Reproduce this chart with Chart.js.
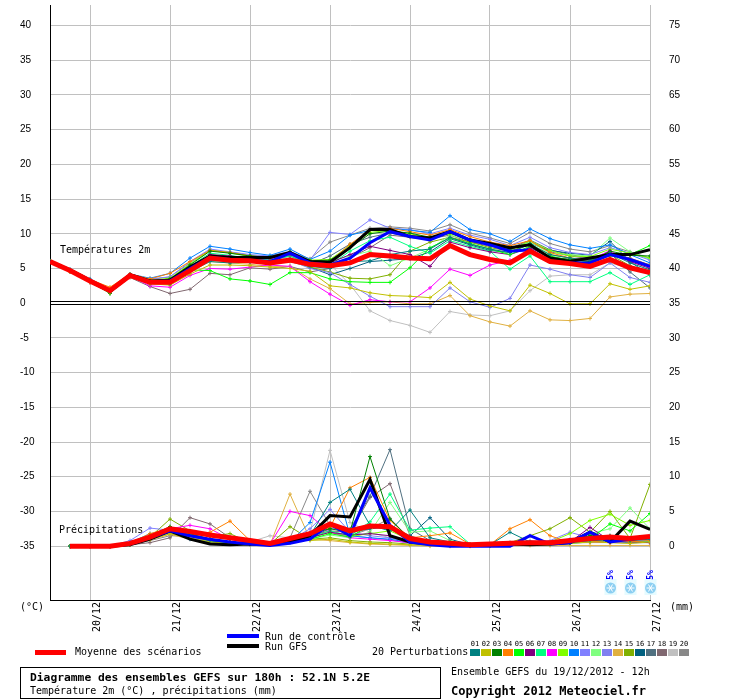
<!DOCTYPE html>
<html>
<head>
<meta charset="utf-8">
<script src="https://cdn.jsdelivr.net/npm/chart.js@4.4.0/dist/chart.umd.min.js"></script>
<style>
  html, body { margin: 0; padding: 0; background: #fff; }
  #wrap { width: 740px; height: 700px; }
</style>
</head>
<body>
<div id="wrap"><canvas id="gefs" width="740" height="700"></canvas></div>
<script>
'use strict';

/* ── Échéances : heures depuis le 19/12/2012 12h ── */
var HOURS = [0, 6, 12, 18, 24, 30, 36, 42, 48, 54, 60, 66, 72, 78, 84, 90,
             96, 102, 108, 114, 120, 126, 132, 138, 144, 150, 156, 162, 168, 174, 180];
var DAY_TICKS  = [12, 36, 60, 84, 108, 132, 156, 180];
var DAY_LABELS = ['20/12', '21/12', '22/12', '23/12', '24/12', '25/12', '26/12', '27/12'];
var TEMP_TICKS   = [-35, -30, -25, -20, -15, -10, -5, 0, 5, 10, 15, 20, 25, 30, 35, 40];
var PRECIP_TICKS = [0, 5, 10, 15, 20, 25, 30, 35, 40, 45, 50, 55, 60, 65, 70, 75];

/* ── Probabilité de neige (icônes) ── */
var SNOW_HOURS = [168, 174, 180];
var SNOW_PROB  = [5, 5, 5];

/* ── Température 2m (°C) ── */
var T_MEAN = [6.0, 4.7, 3.2, 1.8, 4.0, 3.0, 3.0, 4.7, 6.5, 6.2, 6.1, 5.8, 6.2, 5.6, 5.4, 5.8, 7.0, 6.8, 6.5, 6.4, 8.3, 7.0, 6.3, 5.8, 7.5, 6.0, 5.7, 5.3, 6.3, 5.1, 4.4];
var T_CTRL = [6.0, 4.7, 3.2, 1.7, 4.0, 3.1, 3.2, 5.0, 6.6, 6.3, 6.2, 6.0, 7.2, 5.8, 5.5, 6.5, 8.7, 10.3, 9.6, 9.1, 10.3, 9.1, 8.4, 7.5, 7.7, 6.0, 5.8, 5.8, 7.0, 6.3, 5.3];
var T_GFS  = [6.0, 4.8, 3.3, 1.8, 4.1, 3.2, 3.3, 5.2, 6.8, 6.6, 6.6, 6.6, 7.3, 6.0, 5.9, 8.0, 10.6, 10.6, 9.6, 9.4, 10.3, 9.1, 8.6, 8.0, 8.4, 6.5, 6.0, 6.5, 7.0, 7.0, 7.7];

var T_P01 = [6.0, 4.6, 3.2, 1.7, 3.9, 3.0, 2.8, 4.6, 6.0, 5.8, 5.9, 5.8, 6.3, 5.3, 5.0, 6.0, 6.1, 7.0, 7.5, 7.8, 9.5, 8.5, 7.8, 7.3, 8.5, 7.0, 6.5, 6.2, 7.2, 5.8, 4.8];
var T_P02 = [6.0, 4.5, 3.0, 1.5, 3.8, 2.8, 2.6, 4.2, 5.5, 5.5, 5.4, 5.2, 5.0, 4.6, 2.5, 2.2, 1.5, 1.1, 1.0, 0.8, 3.0, 0.6, -0.4, -1.1, 2.6, 1.4, -0.1, -0.1, 2.8, 2.0, 2.5];
var T_P03 = [6.1, 4.8, 3.3, 1.4, 4.1, 3.2, 3.5, 5.5, 7.5, 7.2, 6.8, 6.6, 7.4, 6.1, 6.2, 8.0, 10.0, 10.4, 10.1, 9.5, 10.2, 9.0, 8.4, 7.8, 8.6, 6.6, 6.3, 6.0, 7.5, 6.9, 6.8];
var T_P04 = [6.0, 4.8, 3.4, 2.3, 4.2, 3.5, 4.3, 6.0, 7.6, 7.3, 6.8, 6.5, 7.2, 6.0, 6.0, 8.5, 10.5, 10.8, 10.3, 9.8, 10.6, 9.6, 8.8, 8.3, 9.0, 7.3, 6.5, 6.2, 7.0, 6.4, 5.5];
var T_P05 = [6.0, 4.7, 3.1, 1.4, 4.0, 2.8, 3.0, 4.8, 4.7, 3.5, 3.2, 2.7, 4.4, 4.4, 3.5, 3.1, 3.0, 3.0, 5.1, 8.0, 9.4, 8.6, 7.8, 7.0, 8.2, 6.8, 6.2, 6.0, 6.8, 7.0, 8.3];
var T_P06 = [6.0, 4.6, 3.2, 1.8, 3.9, 3.0, 3.0, 5.0, 7.0, 6.8, 6.5, 6.4, 7.0, 5.8, 5.8, 7.0, 8.2, 7.6, 7.0, 5.3, 8.8, 8.0, 7.4, 7.0, 8.0, 6.6, 6.3, 6.2, 7.4, 6.0, 5.0];
var T_P07 = [6.0, 4.7, 3.3, 1.7, 4.1, 3.1, 3.2, 5.3, 7.2, 6.9, 6.4, 6.2, 6.8, 5.7, 5.5, 7.5, 9.0, 9.5, 8.2, 7.2, 9.0, 8.2, 7.5, 4.9, 6.8, 3.1, 3.1, 3.1, 4.4, 2.7, 4.1];
var T_P08 = [6.0, 4.6, 3.0, 1.6, 3.9, 2.5, 2.3, 4.0, 5.0, 4.9, 5.2, 5.5, 5.3, 3.1, 1.3, -0.3, 0.5, 0.2, 0.2, 2.2, 4.9, 4.0, 5.5, 6.2, 7.2, 6.5, 6.0, 6.2, 7.6, 6.0, 5.2];
var T_P09 = [6.0, 4.8, 3.3, 1.9, 4.0, 3.3, 3.6, 5.6, 7.6, 7.3, 6.8, 6.6, 7.3, 6.2, 6.3, 8.3, 10.2, 10.5, 10.0, 9.4, 10.0, 9.2, 8.6, 7.6, 9.0, 7.6, 6.8, 6.7, 7.8, 7.2, 6.5];
var T_P10 = [6.1, 4.9, 3.5, 2.0, 4.2, 3.6, 4.3, 6.5, 8.2, 7.8, 7.3, 6.9, 7.8, 6.3, 7.5, 9.8, 10.5, 10.8, 10.5, 10.2, 12.6, 10.6, 10.0, 8.9, 10.7, 9.3, 8.4, 7.9, 8.4, 7.0, 5.8];
var T_P11 = [6.0, 4.8, 3.4, 2.0, 4.1, 3.5, 3.8, 6.0, 7.8, 7.4, 7.0, 6.8, 7.5, 6.2, 10.2, 9.9, 12.0, 10.8, 10.6, 10.0, 10.8, 9.8, 9.2, 8.3, 9.5, 8.0, 7.3, 7.0, 8.0, 7.2, 6.2];
var T_P12 = [6.0, 4.8, 3.4, 1.9, 4.0, 3.3, 3.5, 5.7, 7.6, 7.2, 6.7, 6.5, 7.2, 6.0, 6.1, 6.8, 7.5, 5.4, 6.5, 7.8, 9.8, 9.0, 8.5, 7.8, 8.8, 7.2, 7.0, 6.8, 9.4, 7.4, 6.3];
var T_P13 = [6.0, 4.6, 3.1, 1.7, 3.9, 2.9, 2.8, 4.6, 6.3, 6.0, 6.0, 5.8, 6.2, 5.0, 4.4, 2.7, 1.0, -0.5, -0.5, -0.5, 2.2, 0.2, -0.6, 0.7, 5.5, 4.9, 4.1, 3.7, 5.8, 3.7, 3.0];
var T_P14 = [6.0, 4.5, 3.0, 1.6, 3.8, 2.8, 2.7, 4.5, 6.0, 5.8, 5.6, 5.3, 5.3, 3.5, 2.1, -0.1, 0.1, 0.2, -0.1, -0.1, 1.1, -1.8, -2.7, -3.3, -1.1, -2.4, -2.5, -2.2, 0.9, 1.3, 1.4];
var T_P15 = [6.0, 4.6, 3.2, 1.6, 3.9, 3.0, 3.0, 4.8, 6.5, 6.3, 6.0, 5.8, 6.0, 5.2, 4.5, 3.6, 3.5, 4.1, 7.5, 8.8, 9.5, 8.8, 8.0, 7.5, 8.5, 7.0, 6.5, 6.3, 7.0, 5.4, 4.5];
var T_P16 = [6.0, 4.6, 3.2, 1.7, 3.9, 2.9, 2.9, 4.8, 6.2, 6.0, 6.0, 5.8, 6.3, 5.2, 4.1, 5.0, 6.0, 6.2, 6.4, 7.4, 9.3, 8.4, 7.6, 7.3, 8.6, 7.6, 7.2, 6.9, 8.9, 6.0, 4.0];
var T_P17 = [6.0, 4.7, 3.2, 1.7, 4.0, 3.1, 3.1, 5.0, 6.8, 6.6, 6.3, 6.2, 6.8, 5.6, 6.8, 8.5, 9.5, 10.1, 9.6, 9.4, 10.3, 9.2, 8.4, 7.9, 9.1, 7.7, 7.0, 6.5, 7.2, 4.5, 2.2];
var T_P18 = [6.0, 4.6, 3.0, 1.5, 3.7, 2.4, 1.4, 2.0, 4.3, 4.1, 5.1, 4.9, 5.3, 4.5, 5.0, 6.5, 8.0, 9.8, 9.5, 9.3, 9.8, 8.8, 8.2, 7.8, 8.9, 7.4, 6.8, 6.4, 7.2, 6.5, 5.5];
var T_P19 = [6.0, 4.7, 3.3, 1.9, 4.1, 3.2, 3.2, 5.2, 7.0, 6.7, 6.4, 6.1, 6.6, 5.6, 5.6, 2.7, -1.1, -2.5, -3.2, -4.2, -1.2, -1.7, -1.8, -1.1, 1.8, 3.9, 4.1, 4.1, 5.8, 5.0, 4.2];
var T_P20 = [6.0, 4.7, 3.4, 2.0, 4.2, 3.4, 3.8, 5.8, 7.7, 7.3, 6.9, 6.7, 7.4, 6.4, 8.8, 9.8, 10.8, 11.0, 10.8, 10.4, 11.3, 10.1, 9.4, 8.6, 10.2, 8.6, 7.8, 7.4, 8.3, 7.4, 6.5];

/* ── Précipitations 6h (mm), échéances 6h à 180h ── */
var P_MEAN = [0, 0, 0, 0.4, 1.3, 2.5, 2.1, 1.6, 1.2, 0.8, 0.4, 1.1, 1.8, 3.2, 2.2, 2.9, 2.8, 1.1, 0.6, 0.4, 0.2, 0.3, 0.4, 0.5, 0.5, 0.8, 1.1, 1.3, 1.1, 1.4];
var P_CTRL = [0, 0, 0, 0.3, 1.2, 2.2, 1.5, 1.0, 0.6, 0.3, 0.1, 0.4, 1.0, 3.2, 1.5, 8.4, 3.0, 0.6, 0.2, 0, 0, 0, 0, 1.5, 0.3, 0.5, 2.0, 0.6, 1.0, 1.4];
var P_GFS  = [0, 0, 0, 0.2, 1.0, 2.2, 1.0, 0.3, 0.2, 0.3, 0.2, 0.6, 1.5, 4.4, 4.2, 9.6, 1.5, 0.6, 0.3, 0.2, 0.1, 0.2, 0.3, 0.2, 0.3, 0.5, 2.0, 0.6, 3.6, 2.4];

var P_P01 = [0, 0, 0, 0.3, 1.2, 2.2, 1.6, 0.8, 0.5, 0.3, 0.2, 0.8, 1.5, 6.3, 8.2, 3.0, 2.2, 5.2, 1.2, 0.6, 0.2, 0.2, 2.0, 0.6, 0.4, 0.5, 0.8, 1.0, 0.8, 1.0];
var P_P02 = [0, 0, 0, 0.2, 1.0, 1.8, 1.2, 0.6, 0.4, 0.3, 0.2, 1.0, 0.8, 1.0, 0.6, 0.4, 0.3, 0.2, 0.1, 0, 0, 0.1, 0.2, 0.3, 0.2, 0.4, 0.6, 0.5, 0.4, 0.6];
var P_P03 = [0, 0, 0, 0.3, 1.5, 2.8, 1.8, 1.0, 0.6, 0.3, 0.2, 1.0, 1.8, 2.5, 2.0, 12.9, 3.9, 1.0, 0.4, 0.2, 0.1, 0.1, 0.3, 0.5, 0.4, 0.8, 1.5, 1.5, 0.8, 1.2];
var P_P04 = [0, 0, 0, 0.4, 1.8, 2.6, 1.4, 2.0, 3.6, 0.8, 0.3, 0.9, 1.6, 2.7, 8.4, 9.9, 3.7, 1.2, 1.5, 1.9, 0.3, 0.2, 2.5, 3.8, 1.5, 0.5, 0.6, 0.8, 0.6, 0.8];
var P_P05 = [0, 0, 0, 0.3, 1.3, 2.4, 1.7, 1.0, 0.4, 0.3, 0.2, 0.6, 1.0, 1.8, 1.3, 3.0, 2.5, 0.8, 0.4, 0.2, 0.1, 0.1, 0.2, 0.3, 0.3, 0.5, 1.0, 3.2, 2.2, 4.7];
var P_P06 = [0, 0, 0, 0.2, 1.2, 2.0, 1.5, 0.8, 0.5, 0.3, 0.2, 0.6, 1.2, 2.0, 1.6, 1.8, 1.5, 0.6, 0.3, 0.2, 0.1, 0.2, 0.4, 0.5, 0.5, 0.6, 2.7, 0.8, 0.6, 0.5];
var P_P07 = [0, 0, 0, 0.3, 1.4, 2.5, 1.6, 0.8, 0.4, 0.3, 0.2, 0.8, 1.2, 2.2, 1.5, 3.5, 7.5, 2.3, 2.6, 2.8, 0.3, 0.2, 0.3, 0.4, 0.3, 0.4, 0.6, 0.8, 0.6, 0.7];
var P_P08 = [0, 0, 0, 0.4, 1.6, 2.5, 3.0, 2.5, 1.0, 0.4, 0.3, 5.0, 4.4, 2.0, 1.2, 1.0, 0.8, 0.5, 0.3, 0.4, 0.2, 0.3, 0.3, 0.4, 0.3, 0.5, 0.6, 0.5, 0.7, 0.6];
var P_P09 = [0, 0, 0, 0.3, 1.4, 2.8, 1.6, 0.7, 0.4, 0.3, 0.2, 0.7, 1.2, 2.0, 1.4, 1.8, 2.2, 0.9, 0.4, 0.2, 0.1, 0.2, 0.3, 0.5, 0.6, 1.8, 3.7, 4.6, 3.0, 3.7];
var P_P10 = [0, 0, 0, 0.5, 1.8, 2.2, 1.0, 0.6, 0.4, 0.3, 0.2, 0.6, 3.4, 12.1, 1.5, 1.2, 1.0, 0.5, 0.3, 0.2, 0.1, 0.1, 0.2, 0.4, 0.3, 0.5, 0.8, 0.6, 0.5, 0.6];
var P_P11 = [0, 0, 0, 0.8, 2.6, 2.3, 1.5, 1.0, 0.5, 0.3, 0.3, 0.8, 2.5, 5.3, 2.0, 1.5, 1.2, 0.6, 0.3, 0.2, 0.1, 0.3, 0.5, 0.6, 0.8, 2.0, 1.2, 1.5, 0.9, 1.0];
var P_P12 = [0, 0, 0, 0.3, 1.2, 2.6, 1.8, 1.0, 0.5, 0.3, 0.2, 0.5, 1.0, 1.6, 1.2, 2.0, 6.3, 2.0, 2.2, 0.8, 0.2, 0.2, 0.3, 0.5, 0.5, 0.8, 1.8, 2.5, 5.5, 2.5];
var P_P13 = [0, 0, 0, 0.4, 1.5, 2.0, 1.2, 0.8, 0.4, 0.3, 0.2, 0.5, 1.3, 2.8, 1.5, 1.2, 0.9, 0.4, 0.2, 0.1, 0.1, 0.2, 0.4, 0.8, 0.5, 1.0, 1.5, 0.9, 0.7, 0.8];
var P_P14 = [0, 0, 0, 0.2, 0.9, 1.7, 1.0, 0.5, 0.3, 0.2, 0.2, 7.5, 1.0, 0.8, 0.5, 0.3, 0.2, 0.1, 0, 0, 0, 0, 0.1, 0.1, 0.1, 0.1, 0.1, 0.1, 0.1, 0.1];
var P_P15 = [0, 0, 0, 0.3, 1.3, 3.9, 2.2, 1.4, 1.8, 0.5, 0.3, 2.8, 1.0, 1.2, 0.8, 0.6, 0.5, 0.3, 0.2, 0.1, 0.1, 0.2, 0.5, 1.5, 2.5, 4.1, 2.0, 5.0, 1.1, 8.9];
var P_P16 = [0, 0, 0, 0.3, 1.0, 2.0, 1.4, 0.7, 0.4, 0.3, 0.2, 0.8, 1.4, 3.0, 2.0, 2.5, 2.8, 1.5, 4.1, 1.0, 0.2, 0.2, 0.4, 0.5, 0.4, 0.6, 0.8, 0.9, 0.6, 0.7];
var P_P17 = [0, 0, 0, 0.3, 1.1, 2.2, 1.5, 0.9, 0.5, 0.3, 0.2, 0.7, 1.3, 2.5, 2.5, 7.2, 13.9, 2.5, 0.8, 0.4, 0.2, 0.2, 0.3, 0.4, 0.4, 0.6, 0.9, 0.8, 0.7, 0.8];
var P_P18 = [0, 0, 0, 0.2, 0.5, 1.2, 4.1, 3.2, 1.2, 0.5, 0.3, 0.9, 1.5, 2.2, 2.0, 7.0, 9.0, 1.5, 0.5, 0.3, 0.1, 0.2, 0.3, 0.4, 0.3, 0.5, 0.7, 0.6, 0.8, 1.5];
var P_P19 = [0, 0, 0, 0.2, 0.9, 1.8, 1.2, 0.8, 0.5, 0.6, 1.5, 1.2, 2.0, 13.8, 3.4, 2.0, 1.2, 0.5, 0.3, 0.2, 0.1, 0.1, 0.2, 0.3, 0.3, 0.4, 0.5, 0.5, 0.4, 0.5];
var P_P20 = [0, 0, 0, 0.2, 0.8, 1.5, 1.4, 1.0, 0.6, 0.4, 0.3, 1.2, 7.9, 3.0, 1.5, 2.5, 4.0, 1.0, 0.4, 0.2, 0.1, 0.2, 0.3, 0.4, 0.4, 0.5, 0.6, 0.6, 0.7, 0.6];

/* ── Perturbations : numéros et couleurs de la légende ── */
var PERT_IDS = ['01', '02', '03', '04', '05', '06', '07', '08', '09', '10',
                '11', '12', '13', '14', '15', '16', '17', '18', '19', '20'];
var PERT_COLORS = [
    '#008080', '#c0c000', '#008000', '#ff8000', '#00ff00',
    '#800080', '#00ff80', '#ff00ff', '#80ff00', '#0080ff',
    '#8080ff', '#80ff80', '#8080f0', '#e0b040', '#80b000',
    '#006080', '#507080', '#806870', '#c0c0c0', '#888888'
];
var PERT_TEMP = [T_P01, T_P02, T_P03, T_P04, T_P05, T_P06, T_P07, T_P08, T_P09, T_P10,
                 T_P11, T_P12, T_P13, T_P14, T_P15, T_P16, T_P17, T_P18, T_P19, T_P20];
var PERT_PRECIP = [P_P01, P_P02, P_P03, P_P04, P_P05, P_P06, P_P07, P_P08, P_P09, P_P10,
                   P_P11, P_P12, P_P13, P_P14, P_P15, P_P16, P_P17, P_P18, P_P19, P_P20];

/* Bornes de l'axe température ; l'axe de droite est décalé de +35 */
var Y_MIN = -42.76;
var Y_MAX = 42.96;
var RIGHT_SHIFT = 35;

var MONO = '"DejaVu Sans Mono", monospace';

/* ── Utilitaires ── */
function toPoints(hours, values) {
    return values.map(function (v, i) { return { x: hours[i], y: v }; });
}

var PRECIP_HOURS = HOURS.slice(1);

function member(label, hours, values, axis, color, width, order, markers) {
    return {
        label:           label,
        data:            toPoints(hours, values),
        yAxisID:         axis,
        borderColor:     color,
        backgroundColor: color,
        borderWidth:     width,
        pointRadius:     markers ? 2 : 0,
        pointStyle:      'cross',
        pointBorderColor: color,
        pointBorderWidth: 1,
        tension:         0,
        fill:            false,
        order:           order
    };
}

var datasets = [];
datasets.push(member('Moyenne T', HOURS, T_MEAN, 'y', '#ff0000', 5, 0, false));
datasets.push(member('Moyenne P', PRECIP_HOURS, P_MEAN, 'y2', '#ff0000', 5, 0, false));
datasets.push(member('Contrôle T', HOURS, T_CTRL, 'y', '#0000ff', 3, 1, false));
datasets.push(member('Contrôle P', PRECIP_HOURS, P_CTRL, 'y2', '#0000ff', 3, 1, false));
datasets.push(member('GFS T', HOURS, T_GFS, 'y', '#000000', 3, 2, false));
datasets.push(member('GFS P', PRECIP_HOURS, P_GFS, 'y2', '#000000', 3, 2, false));
PERT_COLORS.forEach(function (c, i) {
    datasets.push(member('P' + PERT_IDS[i] + ' T', HOURS, PERT_TEMP[i], 'y', c, 1, 3 + i, true));
    datasets.push(member('P' + PERT_IDS[i] + ' P', PRECIP_HOURS, PERT_PRECIP[i], 'y2', c, 1, 3 + i, true));
});

/* ── Habillage : double trait du 0, textes, légende, neige ── */
var decor = {
    id: 'decor',
    afterDatasetsDraw: function (chart) {
        var ctx = chart.ctx;
        var area = chart.chartArea;
        var ys = chart.scales.y;
        var xs = chart.scales.x;
        var y0 = Math.round(ys.getPixelForValue(0));

        ctx.save();
        ctx.strokeStyle = '#000';
        ctx.lineWidth = 1;
        [-2, 1].forEach(function (d) {
            ctx.beginPath();
            ctx.moveTo(area.left, y0 + d + 0.5);
            ctx.lineTo(area.right, y0 + d + 0.5);
            ctx.stroke();
        });

        ctx.fillStyle = '#000';
        ctx.font = '10px ' + MONO;
        ctx.textBaseline = 'middle';
        ctx.textAlign = 'left';
        ctx.fillText('Températures 2m', area.left + 10, ys.getPixelForValue(7.6));
        ctx.fillText('Précipitations', area.left + 9, ys.getPixelForValue(-32.8));

        /* Probabilité de neige */
        SNOW_HOURS.forEach(function (h, i) {
            var x = Math.round(xs.getPixelForValue(h)) + 0.5;
            var cy = area.bottom - 12;
            ctx.fillStyle = '#e6fbff';
            ctx.fillRect(x - 6, cy - 9, 12, 16);
            ctx.fillStyle = '#8ccff2';
            ctx.beginPath();
            ctx.arc(x, cy, 5.5, 0, Math.PI * 2);
            ctx.fill();
            ctx.strokeStyle = '#ffffff';
            ctx.lineWidth = 1;
            for (var k = 0; k < 3; k++) {
                var a = k * Math.PI / 3;
                ctx.beginPath();
                ctx.moveTo(x - 4 * Math.cos(a), cy - 4 * Math.sin(a));
                ctx.lineTo(x + 4 * Math.cos(a), cy + 4 * Math.sin(a));
                ctx.stroke();
            }
            ctx.save();
            ctx.translate(x, cy - 13);
            ctx.rotate(-Math.PI / 2);
            ctx.fillStyle = '#0000ff';
            ctx.font = 'bold 8px ' + MONO;
            ctx.textAlign = 'center';
            ctx.textBaseline = 'middle';
            ctx.fillText(SNOW_PROB[i] + '%', 0, 0);
            ctx.restore();
        });
        ctx.restore();
    },
    afterDraw: function (chart) {
        var ctx = chart.ctx;
        var area = chart.chartArea;
        ctx.save();
        ctx.fillStyle = '#000';
        ctx.textBaseline = 'middle';
        ctx.textAlign = 'left';
        ctx.font = '10px ' + MONO;
        ctx.fillText('(°C)', 20, area.bottom + 7);
        ctx.fillText('(mm)', area.right + 20, area.bottom + 7);

        /* Légende */
        ctx.fillStyle = '#ff0000';
        ctx.fillRect(35, 650, 31, 5);
        ctx.fillStyle = '#0000ff';
        ctx.fillRect(227, 634, 32, 4);
        ctx.fillStyle = '#000';
        ctx.fillRect(227, 644, 32, 4);
        ctx.fillText('Moyenne des scénarios', 75, 652);
        ctx.fillText('Run de contrôle', 265, 637);
        ctx.fillText('Run GFS', 265, 647);
        ctx.fillText('20 Perturbations', 372, 652);

        ctx.font = '7px ' + MONO;
        ctx.textAlign = 'center';
        PERT_COLORS.forEach(function (c, i) {
            var x = 470 + i * 11;
            ctx.fillStyle = c;
            ctx.fillRect(x, 649, 10, 7);
            ctx.fillStyle = '#000';
            ctx.fillText(PERT_IDS[i], x + 5, 644);
        });

        /* Cartouche */
        ctx.textAlign = 'left';
        ctx.strokeStyle = '#000';
        ctx.lineWidth = 1;
        ctx.strokeRect(20.5, 667.5, 420, 31);
        ctx.font = 'bold 11.3px ' + MONO;
        ctx.fillText('Diagramme des ensembles GEFS sur 180h : 52.1N 5.2E', 30, 678);
        ctx.font = '10px ' + MONO;
        ctx.fillText('Température 2m (°C) , précipitations (mm)', 30, 691);
        ctx.fillText('Ensemble GEFS du 19/12/2012 - 12h', 451, 672);
        ctx.font = 'bold 12px ' + MONO;
        ctx.fillText('Copyright 2012 Meteociel.fr', 451, 692);
        ctx.restore();
    }
};

var tickFont = { family: '"Liberation Sans", sans-serif', size: 10 };

new Chart(document.getElementById('gefs'), {
    type: 'line',
    data: { datasets: datasets },
    plugins: [decor],
    options: {
        responsive: false,
        animation: false,
        devicePixelRatio: 1,
        events: [],
        layout: { padding: { left: 20, right: 0, top: 0, bottom: 0 } },
        plugins: { legend: { display: false }, tooltip: { enabled: false } },
        scales: {
            x: {
                type: 'linear',
                position: 'bottom',
                min: 0,
                max: 180,
                afterBuildTicks: function (s) {
                    s.ticks = DAY_TICKS.map(function (v) { return { value: v }; });
                },
                afterFit: function (s) {
                    s.height = 100;
                    s.paddingLeft = 0;
                    s.paddingRight = 0;
                },
                ticks: {
                    autoSkip: false,
                    minRotation: 90,
                    maxRotation: 90,
                    labelOffset: 7,
                    padding: 2,
                    color: '#000',
                    font: { family: MONO, size: 10 },
                    callback: function (v) {
                        var i = DAY_TICKS.indexOf(v);
                        return i >= 0 ? DAY_LABELS[i] : '';
                    }
                },
                grid: { color: '#c0c0c0', drawTicks: false },
                border: { display: true, color: '#000', width: 1 }
            },
            y: {
                type: 'linear',
                position: 'left',
                min: Y_MIN,
                max: Y_MAX,
                afterBuildTicks: function (s) {
                    s.ticks = TEMP_TICKS.map(function (v) { return { value: v }; });
                },
                afterFit: function (s) {
                    s.width = 30;
                    s.paddingTop = 0;
                    s.paddingBottom = 0;
                },
                ticks: {
                    crossAlign: 'far',
                    color: '#000',
                    font: tickFont,
                    callback: function (v) { return String(v); }
                },
                grid: {
                    drawTicks: false,
                    color: function (c) {
                        return c.tick && c.tick.value === 0 ? 'rgba(0,0,0,0)' : '#c0c0c0';
                    }
                },
                border: { display: true, color: '#000', width: 1 }
            },
            y2: {
                type: 'linear',
                position: 'right',
                min: Y_MIN + RIGHT_SHIFT,
                max: Y_MAX + RIGHT_SHIFT,
                afterBuildTicks: function (s) {
                    s.ticks = PRECIP_TICKS.map(function (v) { return { value: v }; });
                },
                afterFit: function (s) {
                    s.width = 90;
                    s.paddingTop = 0;
                    s.paddingBottom = 0;
                },
                ticks: {
                    padding: 19,
                    color: '#000',
                    font: tickFont,
                    callback: function (v) { return String(v); }
                },
                grid: { display: false, drawTicks: false },
                border: { display: false }
            }
        }
    }
});
</script>
</body>
</html>
